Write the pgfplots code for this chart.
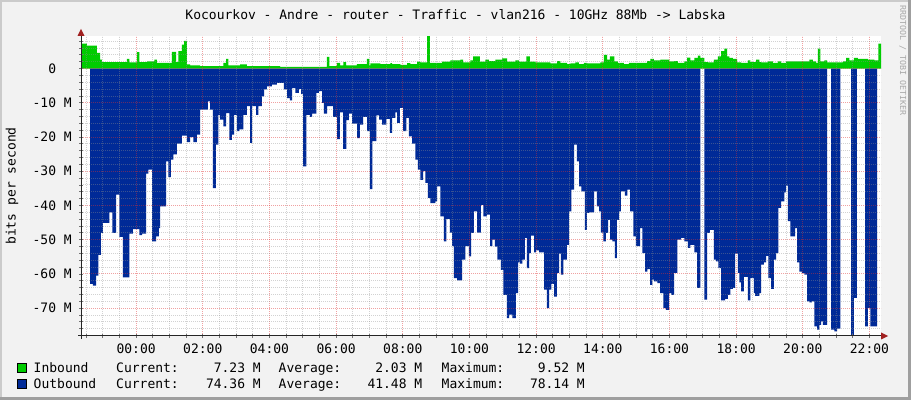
\documentclass[border=0pt]{standalone}
\usepackage{fontspec}
\setmainfont{DejaVu Sans Mono}
\usepackage{pgfplots}
\usepackage{pgfplotstable}
\pgfplotsset{compat=1.18}
\definecolor{bgcol}{HTML}{F2F2F2}
\definecolor{shadea}{HTML}{CBCBCB}
\definecolor{shadeb}{HTML}{9F9F9F}
\definecolor{ingreen}{HTML}{00CC00}
\definecolor{outblue}{HTML}{002A97}
\definecolor{gridgray}{HTML}{8F8F8F}
\definecolor{mgridred}{HTML}{DE3030}
\definecolor{arrowred}{HTML}{A02020}
\definecolor{wmark}{HTML}{A8A8A8}
\newcommand\rrdfont{\fontsize{13bp}{15bp}\selectfont}
\newcommand\smallrrd{\fontsize{8.3bp}{10bp}\selectfont}

% Inbound traffic (Mbit/s), time in hours
\pgfplotstableread{
h v
-1.653 7.3
-1.48 6.7
-1.18 4.6
-1.08 2.6
-1.03 1.9
-0.28 2.8
-0.20 1.8
0.02 4.8
0.10 1.9
0.32 2.1
0.55 2.6
0.62 1.7
1.07 4.9
1.20 1.9
1.27 5.1
1.37 7.0
1.44 8.1
1.52 1.2
1.62 0.9
1.92 0.7
2.62 1.7
2.70 2.8
2.77 0.9
3.12 1.2
3.32 0.7
4.32 0.5
5.72 3.4
5.80 0.7
6.02 1.7
6.12 0.9
6.22 1.9
6.30 0.9
6.62 1.3
6.92 2.8
7.00 0.9
7.03 1.5
7.33 1.3
7.63 1.6
7.68 1.3
7.93 1.1
8.13 1.6
8.23 1.3
8.43 2.0
8.53 1.8
8.73 9.5
8.81 1.7
9.18 2.0
9.43 2.4
9.73 2.6
9.81 1.8
10.03 2.4
10.11 3.6
10.31 2.0
10.48 2.6
10.58 2.2
10.78 2.6
10.98 3.0
11.13 2.0
11.38 2.4
11.48 2.0
11.71 3.6
11.81 2.0
11.98 1.8
12.43 1.5
12.63 2.2
12.73 1.7
12.93 1.3
13.03 1.5
13.18 1.8
13.28 1.3
13.43 1.7
13.53 1.5
13.93 1.8
14.03 4.0
14.13 2.6
14.21 3.6
14.35 2.1
14.45 1.7
14.63 1.3
14.78 1.7
15.33 2.2
15.43 2.8
15.53 2.4
15.73 2.6
16.00 2.1
16.15 2.2
16.25 1.7
16.45 2.1
16.53 3.2
16.63 2.4
16.75 3.1
16.85 3.8
16.93 3.1
17.05 1.9
17.15 1.8
17.33 2.6
17.45 3.6
17.55 5.1
17.65 5.8
17.73 3.6
17.80 3.1
17.90 2.8
18.03 1.8
18.15 1.7
18.35 2.4
18.43 1.9
18.60 2.6
18.70 1.9
18.75 1.8
18.95 2.1
19.10 1.7
19.25 2.1
19.35 1.7
19.50 2.1
20.20 2.6
20.30 2.1
20.40 1.7
20.45 5.8
20.53 2.1
20.65 2.4
20.73 1.8
21.20 2.1
21.30 3.1
21.40 2.4
21.53 3.1
21.65 2.8
21.95 2.6
22.15 2.4
22.27 7.3
22.347 7.3
}\inbound

% Outbound traffic (Mbit/s, drawn negative), segments between gaps
\pgfplotstableread{
h v
-1.38 -62.9
-1.30 -63.4
-1.20 -60.5
-1.13 -54.4
-1.06 -48.0
-1.00 -45.1
-0.80 -42.0
-0.71 -48.0
-0.60 -36.8
-0.50 -49.2
-0.40 -61.0
-0.20 -48.2
-0.10 -46.9
0.10 -48.7
0.18 -48.2
0.30 -30.7
0.37 -29.5
0.48 -50.5
0.60 -49.0
0.68 -46.6
0.72 -40.3
0.90 -27.1
0.97 -31.7
1.04 -26.6
1.12 -25.1
1.22 -21.9
1.37 -19.6
1.52 -21.5
1.62 -20.0
1.72 -21.5
1.82 -19.3
1.92 -12.0
2.15 -9.6
2.22 -12.0
2.30 -34.9
2.39 -22.2
2.47 -13.5
2.52 -14.9
2.62 -16.9
2.70 -13.0
2.80 -20.8
2.87 -19.3
2.94 -13.5
3.02 -18.3
3.10 -17.8
3.22 -13.5
3.32 -11.0
3.42 -21.7
3.48 -11.0
3.60 -13.5
3.67 -11.0
3.77 -8.1
3.84 -6.1
3.92 -5.2
4.07 -4.7
4.22 -4.2
4.43 -6.1
4.53 -8.6
4.61 -9.3
4.68 -5.7
4.78 -7.1
4.88 -5.9
4.95 -7.5
5.01 -28.6
5.11 -13.5
5.21 -14.1
5.28 -13.2
5.41 -7.1
5.48 -6.6
5.58 -10.0
5.63 -13.2
5.73 -11.0
5.91 -14.1
6.03 -20.6
6.11 -12.8
6.21 -23.5
6.31 -15.1
6.38 -13.2
6.48 -16.1
6.63 -20.3
6.71 -16.4
6.81 -14.1
6.93 -18.3
7.01 -35.2
7.09 -21.2
7.21 -13.7
7.29 -14.9
7.38 -16.4
7.51 -14.7
7.61 -18.8
7.68 -14.4
7.78 -12.8
7.83 -15.9
7.91 -11.5
8.01 -18.3
8.11 -14.4
8.18 -19.8
8.28 -21.9
8.38 -26.6
8.45 -29.5
8.53 -32.5
8.61 -30.0
8.68 -33.4
8.75 -37.8
8.83 -39.3
8.98 -38.8
9.03 -34.4
9.13 -43.2
9.23 -50.5
9.31 -43.9
9.41 -47.9
9.48 -51.9
9.53 -61.2
9.63 -61.9
9.78 -55.8
9.88 -51.9
9.98 -54.9
10.05 -48.0
10.13 -41.7
10.23 -47.9
10.34 -39.8
10.42 -43.2
10.52 -42.7
10.62 -51.9
10.69 -50.0
10.76 -52.0
10.84 -55.8
10.94 -58.8
11.02 -66.1
11.12 -72.9
11.19 -71.9
11.29 -72.9
11.39 -65.6
11.46 -56.6
11.52 -57.0
11.59 -55.8
11.66 -49.5
11.72 -58.3
11.79 -53.9
11.84 -48.8
11.94 -53.7
11.99 -53.1
12.09 -53.7
12.24 -64.6
12.32 -70.0
12.39 -64.6
12.46 -62.9
12.54 -66.6
12.62 -59.7
12.69 -54.1
12.74 -60.2
12.82 -55.8
12.92 -51.5
12.99 -41.7
13.06 -35.4
13.14 -22.2
13.22 -27.1
13.29 -34.4
13.36 -35.9
13.46 -47.1
13.52 -42.2
13.59 -42.0
13.74 -35.9
13.82 -40.3
13.89 -41.7
13.94 -47.9
14.02 -50.5
14.09 -48.0
14.16 -44.2
14.22 -50.0
14.29 -50.5
14.36 -55.4
14.42 -44.2
14.49 -41.7
14.54 -35.9
14.66 -37.1
14.74 -35.4
14.82 -41.7
14.92 -49.0
14.99 -51.9
15.12 -46.6
15.19 -53.9
15.27 -59.3
15.34 -58.6
15.42 -63.2
15.49 -61.7
15.54 -62.2
15.64 -62.7
15.72 -65.6
15.82 -70.0
15.89 -70.5
15.99 -65.6
16.06 -66.1
16.14 -59.7
16.24 -50.0
16.35 -49.5
16.45 -50.5
16.55 -52.4
16.63 -51.5
16.75 -53.7
16.83 -64.1
16.93 -64.1
}\outA

\pgfplotstableread{
h v
17.05 -67.5
17.13 -48.0
17.21 -47.1
17.33 -55.8
17.40 -56.3
17.47 -58.3
17.55 -67.7
17.67 -67.3
17.75 -66.1
17.83 -64.4
17.90 -64.1
17.97 -54.1
18.05 -59.7
18.10 -62.5
18.15 -65.1
18.23 -60.9
18.35 -67.7
18.43 -61.2
18.53 -65.6
18.57 -66.4
18.70 -65.6
18.75 -57.3
18.83 -56.6
18.90 -54.7
18.97 -61.2
19.05 -64.4
19.13 -55.8
19.20 -53.9
19.27 -40.7
19.35 -38.8
19.45 -36.2
19.50 -34.2
19.55 -44.6
19.63 -49.0
19.77 -46.6
19.83 -56.6
19.90 -59.3
19.97 -59.7
20.05 -60.2
20.13 -68.0
20.20 -68.3
20.27 -68.0
20.35 -75.3
20.43 -76.3
20.50 -74.9
20.55 -73.9
20.60 -74.9
20.73 -74.9
}\outB

\pgfplotstableread{
h v
20.85 -76.3
20.95 -76.8
21.03 -76.0
21.13 -76.0
}\outC

\pgfplotstableread{
h v
21.45 -78.3
21.53 -67.0
21.62 -67.0
}\outD

\pgfplotstableread{
h v
21.87 -75.3
21.95 -70.0
22.03 -75.3
22.23 -75.3
}\outE

\begin{document}
\rrdfont
\begin{tikzpicture}
% canvas and frame
\fill[bgcol] (0,0) rectangle (911bp,400bp);
\fill[shadea] (0,0) rectangle (2bp,400bp);
\fill[shadea] (0,398bp) rectangle (911bp,400bp);
\fill[shadeb] (908bp,0) rectangle (911bp,400bp);
\fill[shadeb] (0,0) rectangle (911bp,3bp);

\begin{axis}[
  at={(81bp,64bp)}, anchor=south west,
  scale only axis, width=800bp, height=300bp,
  xmin=-1.653, xmax=22.347, ymin=-78.14, ymax=9.52,
  axis background/.style={fill=white},
  axis on top,
  axis x line*=bottom, axis y line*=left,
  axis line style={draw=black!85, line width=1bp},
  xtick={0,2,...,22},
  xticklabels={00:00,02:00,04:00,06:00,08:00,10:00,12:00,14:00,16:00,18:00,20:00,22:00},
  minor xtick={-1.5,-1,-0.5,0.5,1,1.5,2.5,3,3.5,4.5,5,5.5,6.5,7,7.5,8.5,9,9.5,10.5,11,11.5,12.5,13,13.5,14.5,15,15.5,16.5,17,17.5,18.5,19,19.5,20.5,21,21.5},
  ytick={-70,-60,...,0},
  yticklabels={-70 M,-60 M,-50 M,-40 M,-30 M,-20 M,-10 M,0\hphantom{\ M}},
  minor ytick={-78,-76,-74,-72,-68,-66,-64,-62,-58,-56,-54,-52,-48,-46,-44,-42,-38,-36,-34,-32,-28,-26,-24,-22,-18,-16,-14,-12,-8,-6,-4,-2,2,4,6,8},
  grid=both,
  major grid style={draw=mgridred, draw opacity=0.45, line width=0.9bp, dash pattern=on 1bp off 1bp},
  minor grid style={draw=gridgray, draw opacity=0.4, line width=0.9bp, dash pattern=on 1bp off 1bp},
  tick align=center, major tick length=4bp, minor tick length=4bp,
  tick style={draw=black!55, line width=0.8bp},
  xticklabel style={font=\rrdfont, anchor=base, inner sep=0pt, yshift=-15bp},
  yticklabel style={font=\rrdfont, anchor=east, inner sep=0pt, xshift=-7bp},
]
\addplot[const plot, fill=ingreen, draw=none] table[x=h,y=v] {\inbound} \closedcycle;
\addplot[const plot, fill=outblue, draw=none] table[x=h,y=v] {\outA} \closedcycle;
\addplot[const plot, fill=outblue, draw=none] table[x=h,y=v] {\outB} \closedcycle;
\addplot[const plot, fill=outblue, draw=none] table[x=h,y=v] {\outC} \closedcycle;
\addplot[const plot, fill=outblue, draw=none] table[x=h,y=v] {\outD} \closedcycle;
\addplot[const plot, fill=outblue, draw=none] table[x=h,y=v] {\outE} \closedcycle;
\end{axis}

% axis extensions and arrows
\draw[black!85, line width=1bp] (78bp,64bp) -- (81bp,64bp);
\draw[black!85, line width=1bp] (81bp,61bp) -- (81bp,64bp);
\fill[arrowred] (77.5bp,364bp) -- (84.5bp,364bp) -- (81bp,371bp) -- cycle;
\fill[arrowred] (881bp,60.5bp) -- (881bp,67.5bp) -- (888bp,64bp) -- cycle;

% title
\node[anchor=base, inner sep=0pt] at (455.5bp,380.5bp) {Kocourkov - Andre - router - Traffic - vlan216 - 10GHz 88Mb -> Labska};

% y label
\node[anchor=base, rotate=90, inner sep=0pt] at (15.5bp,214bp) {bits per second};

% watermark
\node[anchor=base west, rotate=-90, inner sep=0pt, text=wmark, font=\smallrrd] at (900bp,395bp) {RRDTOOL / TOBI OETIKER};

% legend
\filldraw[fill=ingreen, draw=black, line width=0.8bp] (17.5bp,28bp) rectangle (26.5bp,37bp);
\filldraw[fill=outblue, draw=black, line width=0.8bp] (17.5bp,12bp) rectangle (26.5bp,21bp);
\node[anchor=base west, inner sep=0pt] at (33.5bp,27.2bp) {Inbound};
\node[anchor=base west, inner sep=0pt] at (33.5bp,11.7bp) {Outbound};
\node[anchor=base west, inner sep=0pt] at (116bp,27.2bp) {Current:};
\node[anchor=base west, inner sep=0pt] at (116bp,11.7bp) {Current:};
\node[anchor=base east, inner sep=0pt] at (261bp,27.2bp) {7.23 M};
\node[anchor=base east, inner sep=0pt] at (261bp,11.7bp) {74.36 M};
\node[anchor=base west, inner sep=0pt] at (278.5bp,27.2bp) {Average:};
\node[anchor=base west, inner sep=0pt] at (278.5bp,11.7bp) {Average:};
\node[anchor=base east, inner sep=0pt] at (422.5bp,27.2bp) {2.03 M};
\node[anchor=base east, inner sep=0pt] at (422.5bp,11.7bp) {41.48 M};
\node[anchor=base west, inner sep=0pt] at (441.5bp,27.2bp) {Maximum:};
\node[anchor=base west, inner sep=0pt] at (441.5bp,11.7bp) {Maximum:};
\node[anchor=base east, inner sep=0pt] at (585bp,27.2bp) {9.52 M};
\node[anchor=base east, inner sep=0pt] at (585bp,11.7bp) {78.14 M};
\end{tikzpicture}
\end{document}
